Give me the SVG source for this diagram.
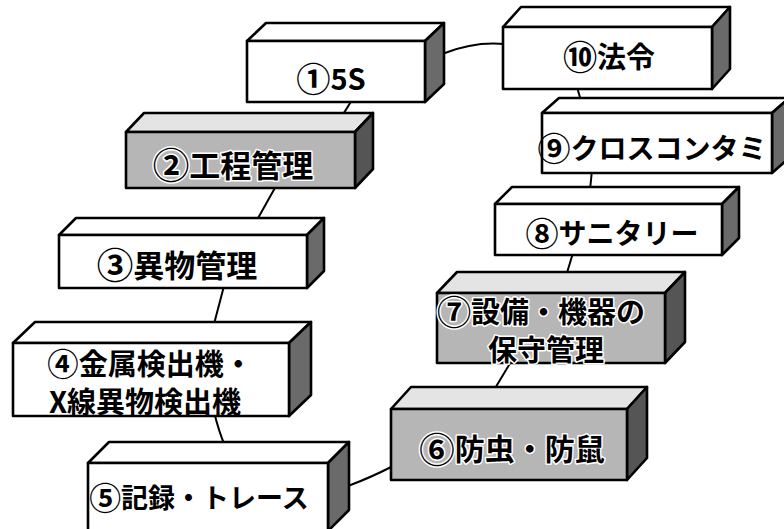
<svg xmlns="http://www.w3.org/2000/svg" width="784" height="529" viewBox="0 0 784 529">
<style>
.face{stroke:#000;stroke-width:2.6;stroke-linejoin:round}
.fw{fill:#fff}
.fs{fill:#b6b6b6}
.tw{fill:#fff}
.ts{fill:#e4e4e4}
.side{fill:#6a6a6a}
.sides{fill:#555}
.lbl{font-family:"Noto Sans CJK JP","Noto Sans",sans-serif;fill:#000;text-anchor:middle;dominant-baseline:central;font-weight:700}
.ls{stroke:#fff;stroke-width:3;paint-order:stroke;stroke-linejoin:round}
.cd{font-size:1.18em}
.cd2{font-size:1.08em}
.con{fill:none;stroke:#000;stroke-width:2}
</style>
<rect width="784" height="529" fill="#fff"/>
<g id="connectors">
<path class="con" d="M445,53 Q475,41 505,44"/>
<path class="con" d="M352,100 L342,116"/>
<path class="con" d="M276,186 L257,220"/>
<path class="con" d="M224,286 L214,324"/>
<path class="con" d="M214,412 Q219,432 225,446"/>
<path class="con" d="M348,486 Q372,477 393,466"/>
<path class="con" d="M512,360 L494,390"/>
<path class="con" d="M573,253 L566,276"/>
<path class="con" d="M592,170 L590,190"/>
<path class="con" d="M577,87 L581,101"/>
</g>
<g id="n1">
<polygon class="face tw" points="247,41 266,23 444,23 425,41"/>
<polygon class="face side" points="425,41 444,23 444,84 425,102"/>
<rect class="face fw" x="247" y="41" width="178" height="61"/>
<text class="lbl" x="331" y="77" font-size="29"><tspan class="cd">①</tspan>5S</text>
</g>
<g id="n10">
<polygon class="face tw" points="503,27 521,7 730,7 712,27"/>
<polygon class="face side" points="712,27 730,7 730,69 712,89"/>
<rect class="face fw" x="503" y="27" width="209" height="62"/>
<text class="lbl" x="609" y="55" font-size="29"><tspan class="cd">⑩</tspan>法令</text>
</g>
<g id="n2">
<polygon class="face ts" points="126,132 144,113 373,113 355,132"/>
<polygon class="face sides" points="355,132 373,113 373,169 355,188"/>
<rect class="face fs" x="126" y="132" width="229" height="56"/>
<text class="lbl ls" x="233" y="163" font-size="31"><tspan class="cd">②</tspan>工程管理</text>
</g>
<g id="n9">
<polygon class="face tw" points="542,113 559,98 789,98 772,113"/>
<polygon class="face side" points="772,113 789,98 789,158 772,173"/>
<rect class="face fw" x="542" y="113" width="230" height="60"/>
<text class="lbl" x="652" y="147" font-size="28"><tspan class="cd">⑨</tspan>クロスコンタミ</text>
</g>
<g id="n3">
<polygon class="face tw" points="59,235 76,218 324,218 307,235"/>
<polygon class="face side" points="307,235 324,218 324,271 307,288"/>
<rect class="face fw" x="59" y="235" width="248" height="53"/>
<text class="lbl" x="177" y="263" font-size="31"><tspan class="cd">③</tspan>異物管理</text>
</g>
<g id="n8">
<polygon class="face tw" points="495,204 512,187 739,187 722,204"/>
<polygon class="face side" points="722,204 739,187 739,238 722,255"/>
<rect class="face fw" x="495" y="204" width="227" height="51"/>
<text class="lbl" x="612" y="232" font-size="28"><tspan class="cd">⑧</tspan>サニタリー</text>
</g>
<g id="n7">
<polygon class="face ts" points="437,293 457,272 685,272 665,293"/>
<polygon class="face sides" points="665,293 685,272 685,342 665,363"/>
<rect class="face fs" x="437" y="293" width="228" height="70"/>
<text class="lbl ls" x="541" y="310" font-size="29"><tspan class="cd">⑦</tspan>設備・機器の</text>
<text class="lbl ls" x="546" y="348" font-size="29">保守管理</text>
</g>
<g id="n4">
<polygon class="face tw" points="13,343 35,322 311,322 289,343"/>
<polygon class="face side" points="289,343 311,322 311,395 289,416"/>
<rect class="face fw" x="13" y="343" width="276" height="73"/>
<text class="lbl" x="150" y="362" font-size="29"><tspan class="cd2">④</tspan>金属検出機・</text>
<text class="lbl" x="145" y="400" font-size="29">X線異物検出機</text>
</g>
<g id="n6">
<polygon class="face ts" points="391,409 411,387 647,387 627,409"/>
<polygon class="face sides" points="627,409 647,387 647,458 627,480"/>
<rect class="face fs" x="391" y="409" width="236" height="71"/>
<text class="lbl ls" x="512" y="447" font-size="30"><tspan class="cd">⑥</tspan>防虫・防鼠</text>
</g>
<g id="n5">
<polygon class="face tw" points="88,463 109,442 349,442 328,463"/>
<polygon class="face side" points="328,463 349,442 349,510 328,531"/>
<rect class="face fw" x="88" y="463" width="240" height="68"/>
<text class="lbl" x="199" y="496" font-size="27"><tspan class="cd">⑤</tspan>記録・トレース</text>
</g>
</svg>
